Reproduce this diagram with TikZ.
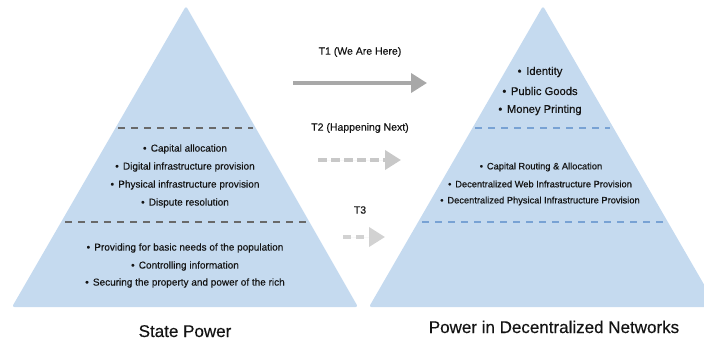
\documentclass[tikz,border=0pt]{standalone}
\usepackage{fontspec}
\setmainfont{Liberation Sans}[FakeBold=0.35]
\usetikzlibrary{arrows.meta}
\definecolor{pyr}{RGB}{197,218,239}
\definecolor{dashgray}{RGB}{105,105,105}
\definecolor{dashblue}{RGB}{120,162,212}
\definecolor{arrA}{RGB}{168,168,168}
\definecolor{arrB}{RGB}{200,200,200}
\definecolor{arrC}{RGB}{210,210,210}
\definecolor{txt}{RGB}{20,20,20}
\newcommand{\bul}{•\hspace{0.42em}}
\tikzset{
  pyramid/.style={fill=pyr, rounded corners=2.5pt},
  sepgray/.style={draw=dashgray, line width=1.2pt, dash pattern=on 7pt off 6pt},
  sepblue/.style={draw=dashblue, line width=1.2pt, dash pattern=on 7pt off 6pt},
  item/.style={text=txt, font=\fontsize{10}{12}\selectfont, inner sep=0pt},
  itemS/.style={text=txt, font=\fontsize{9.3}{11}\selectfont, inner sep=0pt},
  itemL/.style={text=txt, font=\fontsize{11.2}{13}\selectfont, inner sep=0pt},
  tlabel/.style={text=txt, font=\fontsize{10.5}{12}\selectfont, inner sep=0pt},
  title/.style={text=txt, font=\fontsize{17}{20}\selectfont, inner sep=0pt, anchor=base},
  bigarrow/.style={line width=3.8pt, -{Triangle[length=16pt,width=19pt]}},
}
\begin{document}
\begin{tikzpicture}[x=1pt,y=-1pt]
\useasboundingbox (0,0) rectangle (704,340);
\begin{scope}
\clip (0,0) rectangle (704,340);
% pyramids
\path[pyramid] (186,6) -- (358,307) -- (12,307) -- cycle;
\path[pyramid] (543,6) -- (717,307) -- (369,307) -- cycle;
\end{scope}
% separators
\coordinate (l1a) at (118,128); \coordinate (l1b) at (253,128);
\coordinate (l2a) at (65,222);  \coordinate (l2b) at (306,222);
\coordinate (r1a) at (475,128); \coordinate (r1b) at (610,128);
\coordinate (r2a) at (422,222); \coordinate (r2b) at (663,222);
\draw[sepgray] (l1a) -- (l1b);
\draw[sepgray] (l2a) -- (l2b);
\draw[sepblue] (r1a) -- (r1b);
\draw[sepblue] (r2a) -- (r2b);
% left items
\node[item] (a1) at (185,149) {\bul Capital allocation};
\node[item] (a2) at (185,167) {\bul Digital infrastructure provision};
\node[item] (a3) at (185,185) {\bul Physical infrastructure provision};
\node[item] (a4) at (185,203) {\bul Dispute resolution};
\node[item] (b1) at (185,248) {\bul Providing for basic needs of the population};
\node[item] (b2) at (185,266) {\bul Controlling information};
\node[item] (b3) at (185,283) {\bul Securing the property and power of the rich};
% right items
\node[itemL] (c1) at (540,72) {\bul Identity};
\node[itemL] (c2) at (540,91) {\bul Public Goods};
\node[itemL] (c3) at (540,110) {\bul Money Printing};
\node[itemS] (d1) at (541,167) {\bul Capital Routing \& Allocation};
\node[itemS] (d2) at (540,184) {\bul Decentralized Web Infrastructure Provision};
\node[itemS] (d3) at (540,201) {\bul Decentralized Physical Infrastructure Provision};
% titles
\node[title] (st) at (185,337) {State Power};
\node[title] (dt) at (554,333) {Power in Decentralized Networks};
% transitions
\node[tlabel] (t1) at (360,52) {T1 (We Are Here)};
\node[tlabel] (t2) at (360,128) {T2 (Happening Next)};
\node[tlabel] (t3) at (360,210) {T3};
\coordinate (t1s) at (293,83);  \coordinate (t1e) at (427,83);
\coordinate (t2s) at (318,160); \coordinate (t2e) at (401,160);
\coordinate (t3s) at (343,237); \coordinate (t3e) at (385,237);
\draw[bigarrow, draw=arrA, fill=arrA] (t1s) -- (t1e);
\draw[bigarrow, draw=arrB, fill=arrB, dash pattern=on 9pt off 4pt] (t2s) -- (t2e);
\draw[bigarrow, draw=arrC, fill=arrC, dash pattern=on 8pt off 5pt] (t3s) -- (t3e);
\end{tikzpicture}
\end{document}
